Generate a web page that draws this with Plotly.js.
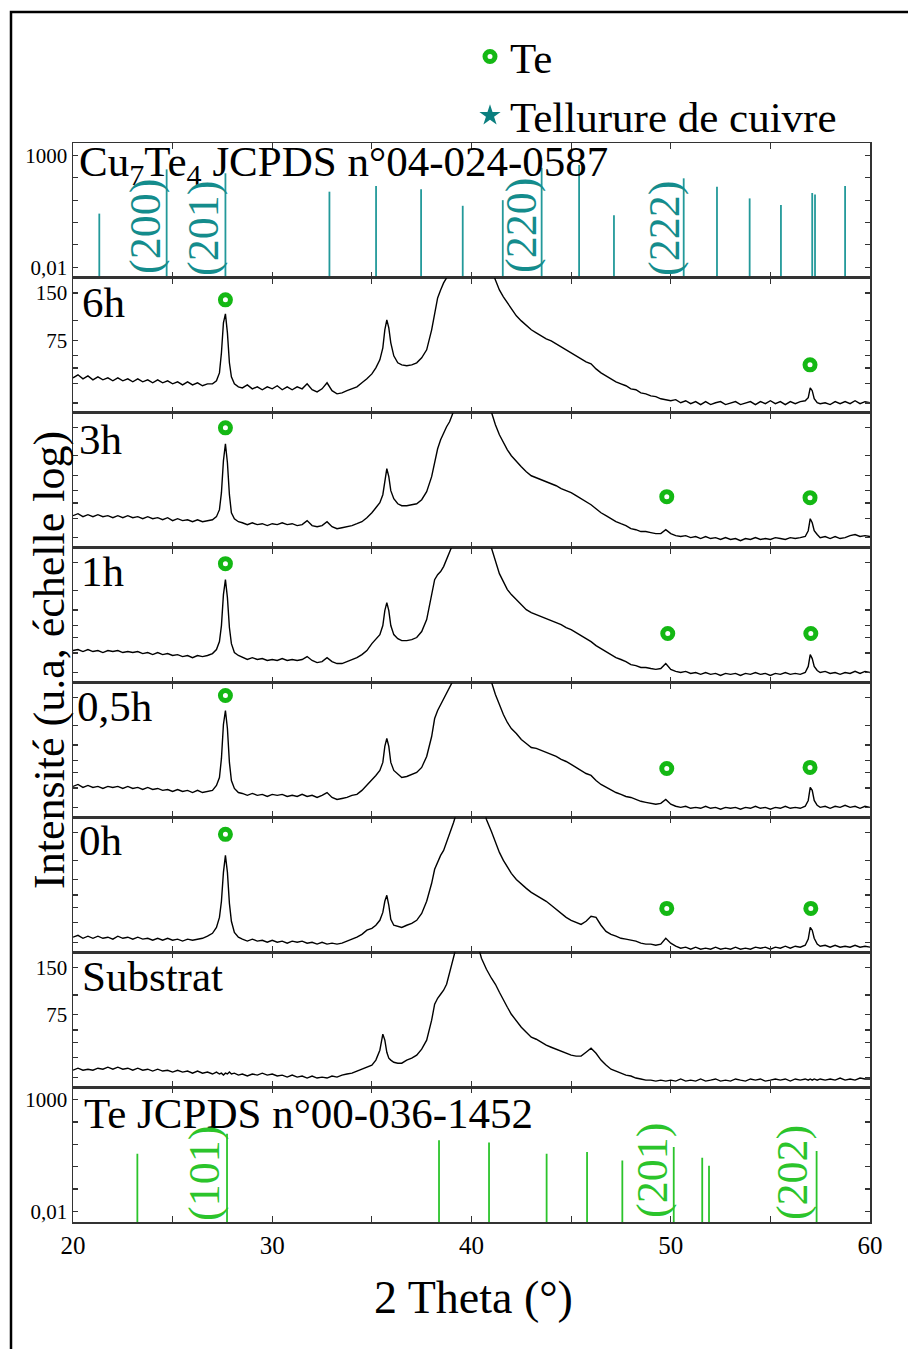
<!DOCTYPE html>
<html><head><meta charset="utf-8">
<script src="https://cdn.plot.ly/plotly-3.0.1.min.js"></script>
<style>html,body{margin:0;padding:0;background:#fff}#chart{width:908px;height:1349px}</style>
</head><body><div id="chart"></div>
<script>
// ---------- DATA ----------
const twoTheta = [
 20,20.25,20.5,20.75,21,21.25,21.5,21.75,22,22.25,22.5,22.75,23,23.25,23.5,23.75,24,24.25,24.5,24.75,25,25.25,25.5,25.75,26,26.25,26.5,26.75,27,
 27.2,27.35,27.45,27.55,27.65,27.75,27.85,27.95,28.1,28.3,
 28.5,28.75,29,29.25,29.5,29.75,30,30.25,30.5,30.75,31,31.25,31.5,31.75,32,32.25,32.5,32.75,33,33.25,33.5,33.75,34,34.25,34.5,34.75,
 35,35.2,35.4,35.55,35.65,35.75,35.85,35.95,36.1,36.3,36.5,36.75,37,37.25,37.5,37.75,38,38.15,38.3,38.45,38.6,38.75,38.9,39.1,39.3,39.5,39.75,40,40.25,40.5,40.75,41,41.2,41.4,41.6,41.8,42,42.25,42.5,42.75,43,
 43.25,43.5,43.75,44,44.25,44.5,44.75,45,45.25,45.5,45.75,46,46.25,46.5,46.75,47,47.25,47.5,47.75,48,48.25,48.5,48.75,49,49.25,49.5,49.75,50,50.25,50.5,50.75,51,51.25,51.5,51.75,52,52.25,52.5,52.75,53,53.25,53.5,53.75,54,54.25,54.5,54.75,55,55.25,55.5,55.75,56,56.25,56.5,56.75,
 56.9,57,57.1,57.2,57.35,57.5,
 57.75,58,58.25,58.5,58.75,59,59.25,59.5,59.75,60];

const int6h = [
 43.3,45.3,42.7,44.6,42.1,44.0,42.1,43.3,41.5,43.3,41.5,42.7,40.9,42.7,40.9,42.1,40.3,42.1,40.3,41.5,39.7,40.9,39.1,40.9,39.1,40.3,38.6,39.7,39.7,
 41.5,46.6,62.5,96.9,110.4,83.7,54.0,44.0,39.7,38.0,
 37.4,39.1,36.9,38.0,36.4,38.0,36.9,38.6,36.4,38.0,36.4,38.0,36.9,39.7,36.4,35.3,36.9,40.3,35.9,34.3,34.8,35.9,36.9,38.0,40.3,42.7,
 45.9,50.2,56.4,67.2,87.5,101.2,90.0,72.3,59.8,54.0,52.4,51.7,52.4,54.0,58.1,65.3,87.5,112.1,139.6,156.9,173.8,187,201,233,290,361,451,522,451,361,270,210,181.6,156.9,141.7,129.7,118.8,107.3,99.7,92.7,87.5,
 83.7,80.1,76.7,74.4,71.3,68.2,65.3,62.5,59.8,57.2,54.8,53.2,49.4,46.6,44.6,42.7,40.9,39.7,38.6,36.9,36.4,34.8,34.3,33.3,32.9,31.9,31.5,31.0,31.5,30.1,31.0,29.7,30.6,29.3,30.6,29.3,30.1,30.6,29.3,30.1,30.6,29.3,30.1,30.6,29.3,30.6,29.7,31.0,29.7,30.6,29.3,30.6,29.7,30.6,31.0,
 32.4,37.4,35.9,31.9,30.1,29.7,
 30.1,29.3,30.6,29.7,30.6,29.7,31.0,29.7,30.6,30.1];

const int3h = [
 41.5,42.7,40.9,42.1,40.9,42.1,40.9,41.5,40.3,41.5,40.3,41.5,40.3,40.9,39.7,40.9,39.7,40.3,39.1,40.3,38.6,39.7,38.6,39.1,38.0,39.1,38.0,38.6,39.1,
 40.9,45.3,58.1,92.7,118.8,90.0,56.4,43.3,39.7,38.0,
 37.4,36.4,37.4,36.4,36.9,35.9,36.9,36.4,37.4,36.4,36.9,35.9,36.4,38.6,35.9,35.3,35.9,38.0,35.3,34.3,34.8,35.3,35.9,36.9,38.0,40.3,
 43.3,46.6,50.2,56.4,71.3,82.5,73.4,59.8,53.2,49.4,48.0,48.0,48.7,49.4,52.4,58.9,73.4,90.0,110.4,126.0,139.6,152.4,163.9,187,222,282,361,418,377,298,233,187,156.9,135.6,120.6,108.8,99.7,91.4,84.9,78.9,74.4,
 72.3,70.2,68.2,66.2,64.3,61.6,59.8,58.1,55.6,53.2,50.9,48.7,45.9,43.3,41.5,39.7,38.0,36.9,35.9,34.3,33.8,32.9,32.9,32.4,31.9,31.9,33.8,31.9,31.0,30.6,31.0,30.1,30.6,29.7,30.6,29.7,30.1,29.3,30.1,29.3,29.7,28.8,29.7,29.3,30.1,29.3,29.7,29.3,30.1,29.7,29.3,30.1,29.7,30.1,30.6,
 33.3,39.7,37.4,33.3,31.5,30.1,
 30.6,29.7,30.6,29.7,30.1,31.0,31.5,30.6,31.0,30.6];

const int1h = [
 41.5,42.1,40.9,42.1,40.9,41.5,40.3,41.5,40.9,41.5,40.3,40.9,40.3,40.9,39.7,40.3,39.1,40.3,39.1,39.7,38.6,39.1,38.0,38.6,37.4,38.6,38.0,38.6,39.7,
 42.1,47.3,59.8,94.1,117.1,90.0,58.1,45.9,40.3,38.6,
 37.4,36.4,37.4,36.4,36.9,35.9,36.4,35.9,36.9,35.9,36.4,35.9,36.4,38.0,35.9,34.8,35.3,37.4,35.3,34.3,34.3,35.3,36.4,37.4,39.1,41.5,
 45.9,48.7,52.4,59.8,74.4,83.7,74.4,59.8,52.4,49.4,48.0,48.0,48.7,50.2,54.8,65.3,92.7,117.1,126.0,131.7,141.7,156.9,173.8,195,233,290,361,418,377,298,233,187,150.2,127.9,113.7,101.2,94.1,87.5,81.3,75.5,72.3,
 70.2,68.2,66.2,64.3,62.5,60.7,58.1,56.4,54.0,51.7,49.4,47.3,44.6,42.7,40.9,39.1,37.4,36.4,35.3,33.8,33.3,32.4,32.4,31.9,31.5,31.9,34.3,31.5,30.6,30.1,30.6,29.7,30.1,29.3,30.1,29.3,29.7,28.8,29.7,29.3,29.7,28.8,29.7,29.3,30.1,29.3,29.7,28.8,29.7,29.3,30.1,29.3,29.7,29.3,30.1,
 32.9,39.1,36.9,32.9,31.0,30.1,
 30.6,29.7,30.1,29.3,30.1,29.7,30.6,29.7,30.6,30.1];

const int05h = [
 40.9,42.1,40.3,41.5,40.3,40.9,39.7,40.9,40.3,40.9,39.7,40.9,39.7,40.3,39.1,40.3,39.1,39.7,38.6,39.1,38.0,39.1,38.0,38.6,37.4,38.6,37.4,38.0,38.6,
 41.5,46.6,61.6,101.2,124.2,95.4,58.1,44.6,39.7,37.4,
 36.9,35.9,36.9,35.9,36.4,35.3,36.4,35.9,36.4,35.3,35.9,35.3,36.4,35.3,35.9,34.8,35.9,37.4,34.8,33.8,34.3,34.8,35.9,36.4,38.6,41.5,
 45.3,48.0,51.7,58.1,73.4,82.5,73.4,58.1,51.7,48.7,46.6,47.3,48.7,50.2,54.0,63.4,84.9,110.4,124.2,135.6,145.9,161.6,176.4,195,233,290,361,418,377,298,233,187,156.9,135.6,117.1,104.2,95.4,88.7,81.3,76.7,72.3,
 71.3,69.2,67.2,65.3,63.4,60.7,58.9,56.4,54.0,51.7,49.4,48.0,44.6,42.1,40.3,38.6,37.4,36.4,35.3,34.8,33.8,32.9,32.4,31.9,31.5,31.9,33.8,31.5,30.6,30.1,30.6,29.7,30.1,29.7,30.6,29.7,30.1,29.3,30.1,29.7,30.1,29.3,30.1,29.7,30.6,29.7,30.1,29.3,30.1,29.7,30.6,29.7,30.1,29.7,30.6,
 33.3,40.3,38.6,33.3,31.0,30.1,
 30.6,29.7,30.6,30.1,31.0,30.1,30.6,29.7,30.6,30.1];

const int0h = [
 32.4,33.3,31.9,32.9,31.9,32.9,31.9,32.4,31.5,32.9,31.9,32.4,31.5,32.4,31.5,31.9,31.0,31.9,31.0,31.9,31.0,31.5,30.6,31.5,31.0,31.5,31.9,32.9,34.3,
 37.4,43.3,54.8,83.7,107.3,83.7,53.2,40.9,34.8,32.4,
 31.5,30.6,31.5,30.6,31.0,30.1,31.0,30.1,30.6,29.7,30.6,30.1,30.6,29.7,30.1,29.3,30.1,29.3,29.7,29.3,29.7,30.6,31.5,32.4,33.8,35.9,
 36.9,38.6,41.5,46.6,54.8,59.8,51.7,42.1,38.6,38.0,37.4,38.6,39.7,41.5,45.9,54.8,71.3,87.5,98.3,107.3,115.4,129.7,150.2,173.8,210,258,336,388,312,233,181.6,152.4,129.7,112.1,99.7,90.0,82.5,75.5,70.2,66.2,62.5,
 59.8,57.2,54.8,51.7,48.7,45.9,43.3,41.5,40.3,39.1,40.9,44.0,43.3,38.6,35.3,33.8,32.9,31.9,31.5,31.0,30.6,29.7,29.3,29.3,28.8,29.3,31.9,29.7,28.4,27.6,28.0,27.2,28.0,27.2,27.6,27.2,28.0,27.2,27.6,27.2,28.0,27.2,27.6,27.2,28.0,27.6,28.0,27.2,28.0,27.6,28.4,27.6,28.4,28.0,28.8,
 31.5,37.4,35.9,31.9,29.3,28.4,
 28.8,28.0,28.8,28.0,28.4,28.0,28.8,28.0,28.4,28.0];

const intSubstrat = [
 33.3,34.3,33.3,33.8,33.3,34.3,33.8,34.8,33.8,34.8,33.8,34.3,33.3,34.3,33.3,33.8,32.9,33.8,32.9,33.3,32.4,33.3,32.4,32.9,31.9,32.9,31.9,32.4,31.5,
 32.4,31.5,31.9,31.0,31.9,31.5,32.4,31.5,31.9,31.0,
 31.5,30.6,31.5,31.0,31.9,31.0,31.5,30.6,31.0,30.1,31.0,30.1,30.6,29.7,30.6,29.7,30.1,29.7,30.6,30.1,31.0,31.5,31.9,32.9,33.8,34.8,
 35.9,38.6,44.6,56.4,51.7,43.3,39.7,38.6,37.4,36.9,36.9,38.6,39.7,41.5,45.3,51.7,69.2,87.5,95.4,101.2,107.3,117.1,139.6,184.3,233,312,361,312,222,171.3,145.9,127.9,117.1,104.2,92.7,83.7,75.5,68.2,62.5,58.1,54.0,
 52.4,50.2,48.0,46.6,45.3,44.0,42.7,41.5,40.9,40.9,43.3,45.9,42.7,38.6,35.9,33.8,32.9,31.9,31.0,30.6,29.7,29.3,28.8,28.8,28.4,28.8,28.4,28.8,28.4,29.3,28.4,28.8,28.4,29.3,28.4,28.8,29.3,28.4,28.8,28.4,29.3,28.8,28.4,29.3,28.8,29.3,28.4,28.8,29.3,28.8,29.3,28.4,29.3,28.8,29.3,
 28.8,29.3,28.8,29.3,28.8,29.3,
 28.8,29.3,28.8,29.7,28.8,29.3,28.8,29.7,29.3,29.3];

// Reference patterns (stick positions in 2θ and relative intensity)
const cuTePos = [21.32,24.70,27.65,32.87,35.21,37.47,39.56,41.57,43.52,45.40,47.15,50.65,52.32,53.96,55.53,57.10,57.24,58.75];
const cuTeInt = [2.5,240,160,24,43,31,5.6,10,280,375,2.1,95,40,12,6,21,18,43];
const tePos = [23.23,27.73,38.37,40.88,43.77,45.80,47.57,50.15,51.58,51.92,57.32];
const teInt = [3.8,30,15,12,3.8,4.5,1.9,7.5,2.5,1.1,5];

// Te peak markers on each sample pattern
const teMark6hX = [27.65,56.99],            teMark6hY = [135.6,52.4];
const teMark3hX = [27.65,49.8,56.99],       teMark3hY = [150,54.8,54.0];
const teMark1hX = [27.65,49.85,57.03],      teMark1hY = [148,53.2,53.2];
const teMark05hX = [27.65,49.8,56.99],      teMark05hY = [154.6,53.2,54.0];
const teMark0hX = [27.65,49.8,57.03],       teMark0hY = [145.9,49.4,49.4];

const panelNames = ['Cu<sub>7</sub>Te<sub>4</sub> JCPDS n°04-024-0587','6h','3h','1h','0,5h','0h','Substrat','Te JCPDS n°00-036-1452'];
const xTickVals = [20,25,30,35,40,45,50,55,60];
const xTickText = ['20','','30','','40','','50','','60'];

// ---------- CHECK ----------
[int6h,int3h,int1h,int05h,int0h,intSubstrat].forEach((a,i)=>{
  if(a.length!==twoTheta.length) throw new Error('length mismatch series '+i+': '+a.length+' vs '+twoTheta.length);
});

// ---------- GEOMETRY ----------
const W=908,H=1349,L=73,R=38,T=143,B=127;
const PW=W-L-R, PH=H-T-B;
const pxX = p => (p-L)/PW;
const pxY = p => 1-(p-T)/PH;
const FONT='Liberation Serif, "Times New Roman", serif';
const TEAL='#148c8c', TEAL_STICK='#23999a', GREEN='#2bc42b', GREEN_MARK='#14b814';

const ax = i => (i===1?'':String(i));
const traces=[];

function sticks(pos, vals, base){
  const xs=[], ys=[];
  pos.forEach((p,k)=>{ xs.push(p,p,null); ys.push(base, vals[k], null); });
  return {xs, ys};
}
const cs = sticks(cuTePos, cuTeInt, 0.001);
traces.push({x:cs.xs, y:cs.ys, xaxis:'x', yaxis:'y', mode:'lines', line:{color:TEAL_STICK, width:1.8}, showlegend:false, hoverinfo:'skip'});

const series=[int6h,int3h,int1h,int05h,int0h,intSubstrat];
series.forEach((s,k)=>{
  const i=k+2;
  traces.push({x:twoTheta, y:s, xaxis:'x'+i, yaxis:'y'+i, mode:'lines', line:{color:'#000', width:1.4}, showlegend:false, hoverinfo:'skip'});
});

const ts = sticks(tePos, teInt, 0.001);
traces.push({x:ts.xs, y:ts.ys, xaxis:'x8', yaxis:'y8', mode:'lines', line:{color:GREEN, width:1.8}, showlegend:false, hoverinfo:'skip'});

const ringMarker = {symbol:'circle', size:10, color:'#ffffff', line:{color:GREEN_MARK, width:5}};
const marks=[[teMark6hX,teMark6hY],[teMark3hX,teMark3hY],[teMark1hX,teMark1hY],[teMark05hX,teMark05hY],[teMark0hX,teMark0hY]];
marks.forEach((m,k)=>{
  const i=k+2;
  traces.push({x:m[0], y:m[1], xaxis:'x'+i, yaxis:'y'+i, mode:'markers', marker:ringMarker,
    name:'Te', legendgroup:'te', showlegend:k===0, hoverinfo:'skip', cliponaxis:false});
});
// legend-only entry for copper telluride (placed outside the visible x-range)
traces.push({x:[100], y:[100], xaxis:'x2', yaxis:'y2', mode:'markers', marker:{symbol:'star', size:20, color:'#0b7f7f'},
  name:'Tellurure de cuivre', showlegend:true, hoverinfo:'skip'});

// ---------- LAYOUT ----------
const layout = {
  width:W, height:H, margin:{l:L, r:R, t:T, b:B, pad:0},
  paper_bgcolor:'#fff', plot_bgcolor:'rgba(0,0,0,0)',
  font:{family:FONT, color:'#000'},
  showlegend:true,
  legend:{x:pxX(470), y:pxY(22), xanchor:'left', yanchor:'top', font:{family:FONT, size:43, color:'#000'},
    bgcolor:'rgba(0,0,0,0)', borderwidth:0, tracegroupgap:0, itemsizing:'trace'},
  annotations:[], shapes:[]
};

const spectraRange=[1.415, 2.272];
const stickRange=[-2.48, 3.56];
for(let i=1;i<=8;i++){
  const s=ax(i);
  layout['xaxis'+s]={
    domain:[0,1], anchor:'y'+s, range:[20,60], autorange:false,
    tickmode:'array', tickvals:xTickVals, ticktext: i===8? xTickText : xTickVals.map(()=>''),
    ticks:'inside', ticklen:6, tickwidth:1.2, tickcolor:'#333',
    mirror:'ticks', showline:true, linecolor:'#333', linewidth:1.5,
    showgrid:false, zeroline:false, tickfont:{family:FONT, size:25, color:'#000'}
  };
  if(i>1) layout['xaxis'+s].matches='x';
  const stick = (i===1||i===8);
  const labelled = (i===2||i===7);
  layout['yaxis'+s]={
    domain:[1-i/8, 1-(i-1)/8], anchor:'x'+s, type:'log', autorange:false,
    range: stick? stickRange : spectraRange,
    tickmode:'array',
    tickvals: stick? [0.01,0.1,1,10,100,1000] : [30,40,50,60,75,100,150],
    ticktext: stick? ['0,01','','','','','1000'] : (labelled? ['','','','','75','','150'] : ['','','','','','','']),
    ticks:'inside', ticklen:5, tickwidth:1.2, tickcolor:'#333',
    mirror:'ticks', showline:true, linecolor:'#333', linewidth:1.5,
    showgrid:false, zeroline:false, tickfont:{family:FONT, size:21, color:'#000'}
  };
}

// panel labels
const labelXpx=[77,80,77,79,75,77,80,82];
const labelYpx=[165,302,439,571,706,840,976,1113];
panelNames.forEach((n,k)=>{
  layout.annotations.push({text:n, xref:'paper', yref:'paper', x:pxX(labelXpx[k]), y:pxY(labelYpx[k]),
    xanchor:'left', yanchor:'middle', showarrow:false, font:{family:FONT, size:43, color:'#000'}});
});

// Miller indices
const hkl=[
  {t:'(200)', x:23.66, y:226, c:TEAL}, {t:'(201)', x:26.52, y:228, c:TEAL},
  {t:'(220)', x:42.48, y:225, c:TEAL}, {t:'(222)', x:49.66, y:228, c:TEAL},
  {t:'(101)', x:26.57, y:1173, c:GREEN}, {t:'(201)', x:49.06, y:1171, c:GREEN}, {t:'(202)', x:56.09, y:1173, c:GREEN}
];
hkl.forEach(h=>{
  layout.annotations.push({text:h.t, xref:'x', yref:'paper', x:h.x, y:pxY(h.y), textangle:-90,
    xanchor:'center', yanchor:'middle', showarrow:false, font:{family:FONT, size:44, color:h.c}});
});

// axis titles
layout.annotations.push({text:'Intensité (u.a, échelle log)', xref:'paper', yref:'paper', x:pxX(50), y:pxY(660),
  textangle:-90, xanchor:'center', yanchor:'middle', showarrow:false, font:{family:FONT, size:44, color:'#000'}});
layout.annotations.push({text:'2 Theta (°)', xref:'paper', yref:'paper', x:pxX(473), y:pxY(1297),
  xanchor:'center', yanchor:'middle', showarrow:false, font:{family:FONT, size:46, color:'#000'}});

// outer frame
layout.shapes.push({type:'rect', xref:'paper', yref:'paper', x0:pxX(11), x1:pxX(1000), y0:pxY(1400), y1:pxY(12),
  line:{color:'#000', width:2.5}, fillcolor:'rgba(0,0,0,0)', layer:'above'});

Plotly.newPlot('chart', traces, layout, {staticPlot:true, displayModeBar:false});
</script>
</body></html>
